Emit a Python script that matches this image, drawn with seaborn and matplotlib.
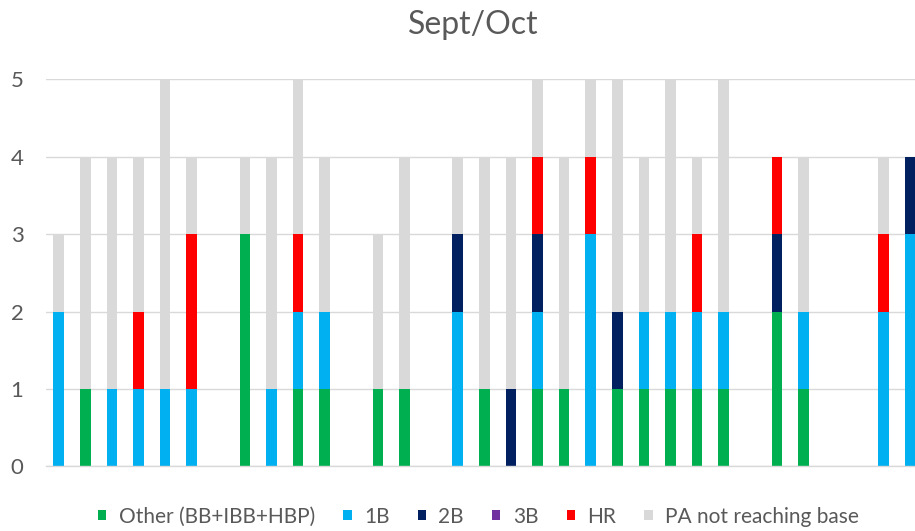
import numpy as np
import pandas as pd
import matplotlib
matplotlib.use("Agg")
import matplotlib.pyplot as plt
from matplotlib.patches import Patch
import seaborn as sns

# ---- data (one value per plate-appearance slot / game) ----
games = [f"G{i+1}" for i in range(33)]
other = [0, 1, 0, 0, 0, 0, 0, 3, 0, 1, 1, 0, 1, 1, 0, 0, 1, 0, 1, 1, 0, 1, 1, 1, 1, 1, 0, 2, 1, 0, 0, 0, 0]
single = [2, 0, 1, 1, 1, 1, 0, 0, 1, 1, 1, 0, 0, 0, 0, 2, 0, 0, 1, 0, 3, 0, 1, 1, 1, 1, 0, 0, 1, 0, 0, 2, 3]
double = [0, 0, 0, 0, 0, 0, 0, 0, 0, 0, 0, 0, 0, 0, 0, 1, 0, 1, 1, 0, 0, 1, 0, 0, 0, 0, 0, 1, 0, 0, 0, 0, 1]
triple = [0] * 33
homers = [0, 0, 0, 1, 0, 2, 0, 0, 0, 1, 0, 0, 0, 0, 0, 0, 0, 0, 1, 0, 1, 0, 0, 0, 1, 0, 0, 1, 0, 0, 0, 1, 0]
pa_out = [1, 3, 3, 2, 4, 1, 0, 1, 3, 2, 2, 0, 2, 3, 0, 1, 3, 3, 1, 3, 1, 3, 2, 3, 1, 3, 0, 0, 2, 0, 0, 1, 0]

series_names = ["Other (BB+IBB+HBP)", "1B", "2B", "3B", "HR", "PA not reaching base"]
series_vals = [other, single, double, triple, homers, pa_out]
colors = ["#00B050", "#00B0F0", "#002060", "#7030A0", "#FF0000", "#D9D9D9"]

df = pd.DataFrame({n: v for n, v in zip(series_names, series_vals)})
df["game"] = games
cum = df[series_names].cumsum(axis=1)

sns.set_theme(style="white")
plt.rcParams["font.family"] = ["Lato", "DejaVu Sans"]

fig = plt.figure(figsize=(9.15, 5.31), dpi=100)
ax = fig.add_axes([0.05, 0.1215, 0.95, 0.7295])

# gridlines behind
ax.set_axisbelow(True)
ax.yaxis.grid(True, color="#D9D9D9", linewidth=1.0)

# layered stacked bars: draw cumulative totals from top layer down
for name, col in reversed(list(zip(series_names, colors))):
    sns.barplot(x=df["game"], y=cum[name], color=col, width=0.4,
                linewidth=0, saturation=1, ax=ax, order=games)

ax.set_ylim(0, 5)
ax.set_xlim(-0.49, 32.19)
ax.set_yticks([0, 1, 2, 3, 4, 5])
ax.set_xticks([])
ax.set_xlabel("")
ax.set_ylabel("")
ax.tick_params(axis="y", colors="#595959", labelsize=16, length=0, pad=16)
for s in ["top", "right", "left"]:
    ax.spines[s].set_visible(False)
ax.spines["bottom"].set_color("#D9D9D9")
ax.spines["bottom"].set_linewidth(1.0)

fig.text(0.517, 0.953, "Sept/Oct", ha="center", va="center", fontsize=23, color="#595959")

handles = [Patch(facecolor=c, edgecolor="none", label=n) for n, c in zip(series_names, colors)]
fig.legend(handles=handles, loc="center", bbox_to_anchor=(0.523, 0.027), ncol=6,
           frameon=False, fontsize=15, labelcolor="#595959",
           handlelength=0.4, handleheight=0.4, handletextpad=0.6, columnspacing=1.35)

fig.savefig("out.png", dpi=100)
